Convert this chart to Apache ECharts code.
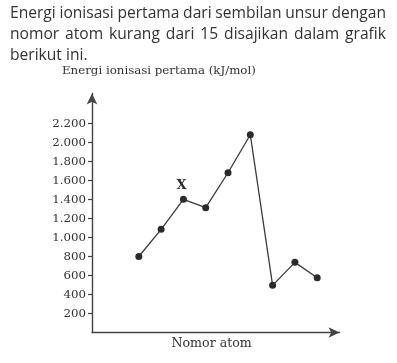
<!DOCTYPE html>
<html><head><meta charset="utf-8">
<script src="https://cdn.jsdelivr.net/npm/echarts@6/dist/echarts.min.js"></script>
<style>html,body{margin:0;padding:0;background:#fff}#c{width:397px;height:363px}</style>
</head><body><div id="c"></div>
<script>
// Data
const atomicNumbers = [5, 6, 7, 8, 9, 10, 11, 12, 13];
const ionizationEnergies = [800, 1086, 1402, 1314, 1681, 2081, 496, 738, 577];
const pointLabels = ['', '', 'X', '', '', '', '', '', ''];
const yTickValues = [200, 400, 600, 800, 1000, 1200, 1400, 1600, 1800, 2000, 2200];
const paragraphLines = [
  'Energi ionisasi pertama dari sembilan unsur dengan',
  'nomor atom kurang dari 15 disajikan dalam grafik',
  'berikut ini.'
];
const yAxisTitle = 'Energi ionisasi pertama (kJ/mol)';
const xAxisTitle = 'Nomor atom';

const ink = '#333';
const serif = '"DejaVu Serif", serif';
const paraFont = '"Open Sans", sans-serif';
const paraSize = 15.6;

function fmt(v) {
  const s = String(v);
  return v >= 1000 ? s.slice(0, s.length - 3) + '.' + s.slice(-3) : s;
}

// Build justified paragraph as text elements
const ctx = document.createElement('canvas').getContext('2d');
ctx.font = paraSize + 'px "Open Sans"';
const paraLeft = 10, paraRight = 386;
const graphics = [];
paragraphLines.forEach(function (line, li) {
  const words = line.split(' ');
  const midY = 14 + li * 21;
  const justify = li < paragraphLines.length - 1;
  const widths = words.map(w => ctx.measureText(w).width);
  const total = widths.reduce((a, b) => a + b, 0);
  const gap = justify ? (paraRight - paraLeft - total) / (words.length - 1) : ctx.measureText(' ').width;
  let x = paraLeft;
  words.forEach(function (w, i) {
    graphics.push({
      type: 'text', x: x, y: midY,
      style: { text: w, font: paraSize + 'px ' + paraFont, fill: ink, verticalAlign: 'middle' }
    });
    x += widths[i] + gap;
  });
});
graphics.push({ type: 'text', x: 62, y: 70.5, style: { text: yAxisTitle, font: '11.8px ' + serif, fill: ink, verticalAlign: 'middle' } });
graphics.push({ type: 'text', x: 171.5, y: 344, style: { text: xAxisTitle, font: '12.6px ' + serif, fill: ink, verticalAlign: 'middle' } });

const chart = echarts.init(document.getElementById('c'), null, { renderer: 'canvas' });
chart.setOption({
  animation: false,
  backgroundColor: '#fff',
  grid: { left: 92, right: 57.5, top: 93.5, bottom: 30.5, containLabel: false },
  xAxis: {
    type: 'value', min: 2.9, max: 14,
    axisLine: { show: true, symbol: ['none', 'arrow'], symbolSize: [8, 11], lineStyle: { color: '#444', width: 1.4 } },
    axisTick: { show: false }, axisLabel: { show: false }, splitLine: { show: false }
  },
  yAxis: {
    type: 'value', min: 0, max: 2515,
    axisLine: { show: true, symbol: ['none', 'arrow'], symbolSize: [8, 11], lineStyle: { color: '#444', width: 1.4 } },
    axisTick: { show: true, length: 4, customValues: yTickValues, lineStyle: { color: '#444', width: 1.2 } },
    axisLabel: { show: true, customValues: yTickValues, formatter: fmt, margin: 6, color: ink, fontFamily: serif, fontSize: 11.8 },
    splitLine: { show: false }
  },
  series: [{
    type: 'line',
    data: atomicNumbers.map((z, i) => [z, ionizationEnergies[i]]),
    symbol: 'circle', symbolSize: 7,
    itemStyle: { color: '#2b2b2b' },
    lineStyle: { color: '#3a3a3a', width: 1.3 },
    label: {
      show: true, position: 'top', distance: 4, offset: [-2, 0],
      formatter: p => pointLabels[p.dataIndex],
      color: '#2b2b2b', fontFamily: serif, fontWeight: 'bold', fontSize: 13
    }
  }],
  graphic: graphics
});
</script></body></html>
